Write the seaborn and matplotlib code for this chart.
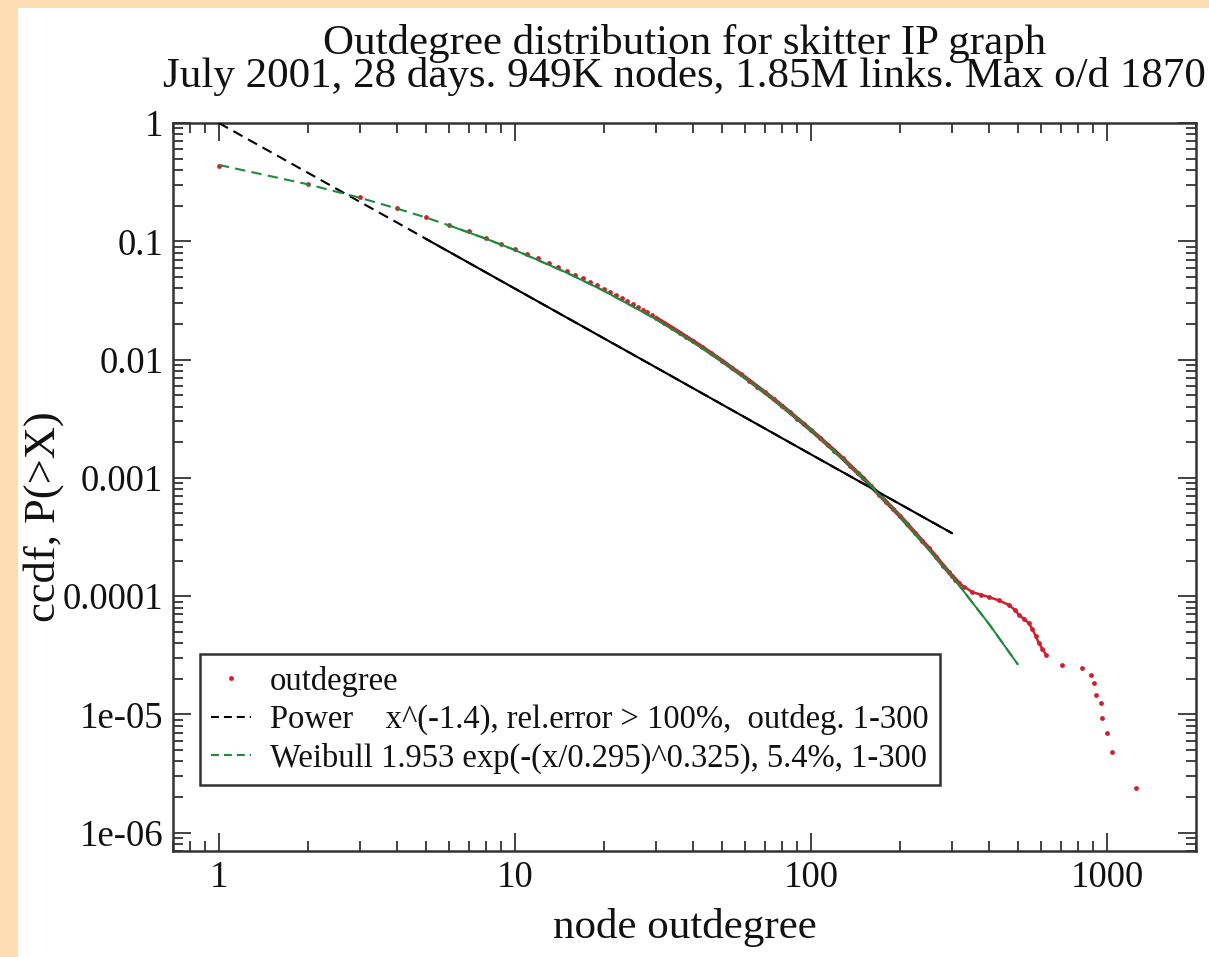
import matplotlib
matplotlib.use("Agg")
import matplotlib.pyplot as plt
import seaborn as sns
import pandas as pd
import numpy as np
from matplotlib.lines import Line2D
from matplotlib.patches import Rectangle
from matplotlib.ticker import FixedLocator, FixedFormatter, LogLocator, NullFormatter

# ---------------- data ----------------
title_line1 = "Outdegree distribution for skitter IP graph"
title_line2 = "July 2001, 28 days. 949K nodes, 1.85M links. Max o/d 1870"
x_label = "node outdegree"
y_label = "ccdf, P(>X)"

x_ticks = [1, 10, 100, 1000]
x_tick_labels = ["1", "10", "100", "1000"]
y_ticks = [1e-6, 1e-5, 1e-4, 1e-3, 1e-2, 1e-1, 1]
y_tick_labels = ["1e-06", "1e-05", "0.0001", "0.001", "0.01", "0.1", "1"]

legend_labels = [
    "outdegree",
    "Power    x^(-1.4), rel.error > 100%,  outdeg. 1-300",
    "Weibull 1.953 exp(-(x/0.295)^0.325), 5.4%, 1-300",
]

# empirical ccdf points
deg_x = [1, 2, 3, 4, 5, 6, 7, 8, 9, 10, 11, 12, 13, 14, 15, 16, 17, 18, 19, 20,
         21, 22, 23, 24, 25, 26, 27, 28, 29, 30, 32, 34, 36, 38, 40, 43, 46, 50,
         54, 58, 62, 66, 70, 75, 80, 85, 90, 95, 100, 107, 114, 120, 128, 136,
         144, 150, 160, 170, 180, 190, 200, 212, 225, 238, 250, 265, 280, 292,
         300, 308, 317, 330, 351, 375, 400, 432, 467, 490, 505, 525, 545, 559,
         575, 589, 605, 622, 705, 823, 882, 903, 917, 953, 961, 1000, 1038, 1251]
deg_ccdf = [0.43, 0.305, 0.236, 0.192, 0.161, 0.138, 0.121, 0.107, 0.0955, 0.0862,
            0.0785, 0.0716, 0.0660, 0.0608, 0.0562, 0.0522, 0.0486, 0.0453, 0.0424,
            0.0397, 0.0372, 0.0350, 0.0330, 0.0311, 0.0294, 0.0278, 0.0263, 0.0250,
            0.0237, 0.0225, 0.0203, 0.0185, 0.0169, 0.0155, 0.0143, 0.0127, 0.0113,
            0.00980, 0.00852, 0.00750, 0.00663, 0.00589, 0.00527, 0.00460, 0.00405,
            0.00357, 0.00317, 0.00283, 0.00254, 0.00219, 0.00190, 0.00170, 0.00146,
            0.00126, 0.00110, 0.00100, 0.000845, 0.000723, 0.000623, 0.000542,
            0.000475, 0.000404, 0.000342, 0.000292, 0.000255, 0.000214, 0.000181,
            0.000160, 0.000148, 0.000138, 0.000128, 1.20e-4, 1.08e-4, 1.03e-4,
            9.8e-5, 9.2e-5, 8.4e-5, 7.6e-5, 6.9e-5, 6.4e-5, 5.9e-5, 5.3e-5, 4.6e-5,
            4.0e-5, 3.6e-5, 3.2e-5, 2.6e-5, 2.45e-5, 2.14e-5, 1.83e-5, 1.45e-5,
            1.24e-5, 9.4e-6, 7.0e-6, 4.8e-6, 2.4e-6]

# power-law fit line
power_x = [1, 2, 3, 4, 5, 6, 10, 30, 100, 300]
power_y = [1.0, 0.379, 0.215, 0.144, 0.105, 0.0814, 0.0398, 0.00857, 0.00158, 0.00034]

# Weibull fit line
weib_x = [1, 2, 3, 4, 5, 6, 8, 10, 15, 20, 30, 40, 50, 70, 100, 150, 200, 300, 400, 500]
weib_y = [0.442, 0.303, 0.233, 0.189, 0.159, 0.136, 0.105, 0.0843, 0.0541, 0.0381,
          0.0219, 0.0141, 0.00972, 0.00527, 0.00255, 0.000998, 0.000475, 0.000147,
          5.8e-5, 2.65e-5]

# ---------------- styling ----------------
PEACH = "#FCDCB3"
RED = "#d0202e"
GREEN = "#1f8a3c"
DARK = "#333333"
TXT = "#111111"

sns.set_theme(style="ticks")
plt.rcParams["font.family"] = ["Liberation Serif", "DejaVu Serif"]

W, H = 1209, 957
fig = plt.figure(figsize=(W / 100, H / 100), dpi=100)
fig.patch.set_facecolor(PEACH)
fig.add_artist(Rectangle((18 / W, 0), 1 - 18 / W, 1 - 8 / H, transform=fig.transFigure,
                         facecolor="white", edgecolor="none", zorder=-10))

left, right, top, bottom = 173, 1196, 123, 851
ax = fig.add_axes([left / W, 1 - bottom / H, (right - left) / W, (bottom - top) / H])
ax.set_facecolor("white")
ax.set_xscale("log")
ax.set_yscale("log")

df_deg = pd.DataFrame({"x": deg_x, "y": deg_ccdf})
df_pow = pd.DataFrame({"x": power_x, "y": power_y})
df_wei = pd.DataFrame({"x": weib_x, "y": weib_y})

# dense parts of the data form a continuous band
dense_fit = df_deg[(df_deg.x >= 30) & (df_deg.x <= 317)]
dense_tail = df_deg[(df_deg.x >= 317) & (df_deg.x <= 622)]
sns.lineplot(data=dense_fit, x="x", y="y", ax=ax, color=RED, linewidth=3.0,
             estimator=None, sort=False, zorder=2, legend=False)
sns.lineplot(data=dense_tail, x="x", y="y", ax=ax, color=RED, linewidth=1.8,
             estimator=None, sort=False, zorder=2, legend=False)
sns.scatterplot(data=df_deg, x="x", y="y", ax=ax, color=RED, s=12, linewidth=0,
                zorder=3, legend=False)

dash_pat = (0, (5, 3))
sns.lineplot(data=df_pow, x="x", y="y", ax=ax, color="black", linewidth=1.5,
             estimator=None, sort=False, zorder=4, legend=False)
ax.lines[-1].set_linestyle(dash_pat)
sns.lineplot(data=df_pow[df_pow.x >= 5], x="x", y="y", ax=ax, color="black",
             linewidth=1.5, estimator=None, sort=False, zorder=4, legend=False)

sns.lineplot(data=df_wei, x="x", y="y", ax=ax, color=GREEN, linewidth=1.5,
             estimator=None, sort=False, zorder=5, legend=False)
ax.lines[-1].set_linestyle(dash_pat)
sns.lineplot(data=df_wei[df_wei.x >= 6], x="x", y="y", ax=ax, color=GREEN,
             linewidth=1.4, estimator=None, sort=False, zorder=5, legend=False)

ax.set_xlim(0.7, 2000)
ax.set_ylim(7e-7, 1.0)

ax.xaxis.set_major_locator(FixedLocator(x_ticks))
ax.xaxis.set_major_formatter(FixedFormatter(x_tick_labels))
ax.yaxis.set_major_locator(FixedLocator(y_ticks))
ax.yaxis.set_major_formatter(FixedFormatter(y_tick_labels))
ax.xaxis.set_minor_locator(LogLocator(base=10, subs=np.arange(2, 10), numticks=20))
ax.yaxis.set_minor_locator(LogLocator(base=10, subs=np.arange(2, 10), numticks=20))
ax.xaxis.set_minor_formatter(NullFormatter())
ax.yaxis.set_minor_formatter(NullFormatter())

ax.tick_params(which="both", direction="in", top=True, right=True, color=DARK,
               width=1.3, labelsize=26.5, labelcolor=TXT, pad=7)
ax.tick_params(which="major", length=13)
ax.tick_params(which="minor", length=7)
for sp in ax.spines.values():
    sp.set_color(DARK)
    sp.set_linewidth(1.8)

ax.set_xlabel(x_label, fontsize=31, color=TXT)
ax.set_ylabel(y_label, fontsize=32, color=TXT)
ax.xaxis.set_label_coords(0.5, -0.078)
ax.yaxis.set_label_coords(-0.107, 0.459)

# two-line title as one text block
cx = (left + right) / 2 / W
fig.text(cx, 1 - 60 / H, title_line1 + "\n" + title_line2, ha="center", va="center",
         fontsize=31, color=TXT, linespacing=0.82, multialignment="center")

# legend
handles = [
    Line2D([], [], color=RED, marker="o", markersize=3.5, linestyle="none", markeredgewidth=0),
    Line2D([], [], color="black", linewidth=1.5, linestyle=(0, (3.8, 2.4))),
    Line2D([], [], color=GREEN, linewidth=1.5, linestyle=(0, (3.8, 2.4))),
]
leg = ax.legend(handles, legend_labels, loc="lower left",
                bbox_to_anchor=(27 / (right - left), (bottom - 785) / (bottom - top)),
                borderaxespad=0, frameon=True, fancybox=False, framealpha=1,
                edgecolor=DARK, fontsize=23.5, handlelength=1.2, handletextpad=0.6,
                labelspacing=0.22, borderpad=0.35, numpoints=1)
leg.get_frame().set_linewidth(1.8)
for t in leg.get_texts():
    t.set_color(TXT)

fig.savefig("out.png", dpi=100, facecolor=fig.get_facecolor())
